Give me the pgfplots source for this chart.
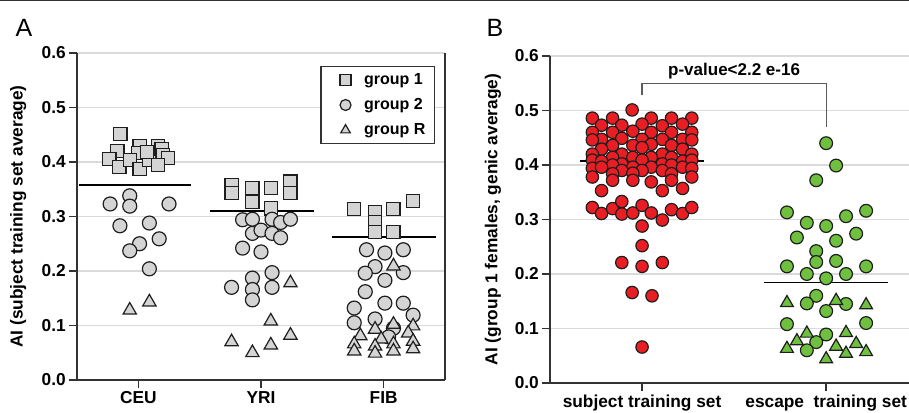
\documentclass[border=0pt]{standalone}
\usepackage{fontspec}
\setmainfont{Liberation Sans}
\usepackage{pgfplots}
\pgfplotsset{compat=1.18}
\definecolor{gfill}{RGB}{212,212,212}
\definecolor{edge}{RGB}{30,30,30}
\definecolor{rfill}{RGB}{232,30,36}
\definecolor{gnfill}{RGB}{112,192,64}
\definecolor{gridc}{RGB}{218,218,218}
\definecolor{axc}{RGB}{50,50,50}
\newcommand{\tf}{\bfseries\fontsize{17.3}{20}\selectfont}
\pgfplotsset{
 common/.style={
  scale only axis, height=327pt,
  ymin=0, ymax=0.6, ytick={0,0.1,0.2,0.3,0.4,0.5,0.6},
  axis x line*=bottom, axis y line*=left,
  axis line style={axc, line width=1.5pt, -},
  tick align=outside, major tick length=8pt,
  tick style={axc, line width=1.5pt},
  ymajorgrids, grid style={gridc, line width=1.5pt},
  /pgf/number format/assume math mode=true,
  y tick label style={/pgf/number format/.cd, fixed, fixed zerofill, precision=1, /tikz/.cd, font=\tf, inner sep=3pt},
  x tick label style={font=\tf},
  clip=false,
 },
 sq/.style={only marks, mark=square*, mark size=6.6pt, mark options={draw=edge, fill=gfill, line width=1.2pt}},
 ci/.style={only marks, mark=*, mark size=7pt, mark options={draw=edge, fill=gfill, line width=1.2pt}},
 tr/.style={only marks, mark=triangle*, mark size=7.7pt, mark options={draw=edge, fill=gfill, line width=1.2pt}},
 rci/.style={only marks, mark=*, mark size=6.2pt, mark options={draw=edge, fill=rfill, line width=1.2pt}},
 gci/.style={only marks, mark=*, mark size=6.4pt, mark options={draw=edge, fill=gnfill, line width=1.2pt}},
 gtr/.style={only marks, mark=triangle*, mark size=7.4pt, mark options={draw=edge, fill=gnfill, line width=1.2pt}},
 mline/.style={black, line width=1.5pt, forget plot},
}
\begin{document}
\begin{tikzpicture}
\useasboundingbox (0pt,0pt) rectangle (909pt,412pt);
\clip (0pt,0pt) rectangle (909pt,412pt);
\fill[axc] (0pt,410.5pt) rectangle (909pt,412pt);
\node[font=\fontsize{25}{25}\selectfont] at (24pt,384pt) {A};
\node[font=\fontsize{25}{25}\selectfont] at (495pt,384pt) {B};
% ---------------- Panel A ----------------
\begin{axis}[common,
  at={(77pt,32pt)}, anchor=south west, width=368pt,
  xmin=0.5, xmax=3.5, xtick={1,2,3}, xticklabels={CEU,YRI,FIB},
  ylabel={AI (subject training set average)},
  every axis y label/.style={at={(axis description cs:-0.16,0.5)}, rotate=90, anchor=center, font=\tf},
  legend style={at={(0.973,0.960)}, anchor=north east, draw=axc, line width=1.2pt, fill=white,
    font=\bfseries\fontsize{16}{19}\selectfont, inner xsep=8pt, inner ysep=6pt, row sep=10.5pt,
    nodes={inner sep=1pt}},
  legend cell align=left,
  legend image code/.code={\path (-16pt,0pt) (17pt,0pt); \draw[mark size=5.5pt] plot coordinates {(0pt,0pt)};},
]
\addplot[sq] coordinates {
 (0.854,0.451)(0.83,0.420)(0.764,0.406)(0.845,0.391)(1.01,0.429)(1.0,0.417)(0.93,0.404)
 (1.01,0.387)(1.09,0.404)(1.16,0.429)(1.19,0.424)(1.2,0.413)(1.24,0.407)(1.16,0.394)(1.07,0.418)
 (1.76,0.358)(1.76,0.343)(1.93,0.352)(1.93,0.327)(2.08,0.352)(2.08,0.315)(2.24,0.364)(2.24,0.343)
 (2.76,0.314)(2.93,0.308)(2.93,0.290)(2.93,0.272)(3.08,0.314)(3.08,0.272)(3.24,0.328)
};
\addlegendentry{group 1}
\addplot[ci] coordinates {
 (0.77,0.323)(0.93,0.338)(0.93,0.319)(1.25,0.323)(0.85,0.283)(1.09,0.288)(1.01,0.250)(0.93,0.237)(1.17,0.259)(1.09,0.204)
 (1.85,0.294)(1.93,0.295)(2.09,0.295)(2.16,0.289)(2.24,0.295)(1.93,0.269)(2.0,0.275)(2.09,0.269)(2.16,0.261)
 (1.85,0.242)(2.0,0.235)(1.93,0.187)(2.09,0.197)(1.76,0.170)(1.93,0.166)(2.09,0.170)(1.93,0.147)
 (2.86,0.239)(3.01,0.233)(3.16,0.239)(2.93,0.208)(2.85,0.196)(3.01,0.183)(3.16,0.197)(2.85,0.162)
 (3.01,0.141)(3.16,0.141)(2.76,0.132)(3.24,0.119)(2.76,0.105)(2.93,0.112)(3.08,0.095)(3.04,0.079)
};
\addlegendentry{group 2}
\addplot[tr] coordinates {
 (0.93,0.128)(1.09,0.143)
 (2.24,0.178)(2.08,0.108)(2.24,0.082)(1.76,0.070)(2.08,0.064)(1.93,0.050)
 (3.08,0.209)(2.93,0.093)(3.08,0.102)(3.24,0.099)(3.2,0.086)(2.81,0.081)(2.98,0.075)(3.24,0.071)
 (2.76,0.066)(2.93,0.062)(3.08,0.066)(2.76,0.053)(2.93,0.049)(3.08,0.053)(3.24,0.057)
};
\addlegendentry{group R}
\addplot[mline] coordinates {(0.52,0.358)(1.43,0.358)};
\addplot[mline] coordinates {(1.585,0.310)(2.43,0.310)};
\addplot[mline] coordinates {(2.58,0.262)(3.43,0.262)};
\draw[axc, line width=1.5pt] (rel axis cs:1,0) -- (rel axis cs:1,1);
\end{axis}
% ---------------- Panel B ----------------
\begin{axis}[common,
  at={(550pt,29pt)}, anchor=south west, width=359pt,
  xmin=0.5, xmax=2.45, xtick={1,2}, xticklabels={subject training set, escape\ \ training set},
  ylabel={AI (group 1 females, genic average)},
  every axis y label/.style={at={(axis description cs:-0.159,0.5)}, rotate=90, anchor=center, font=\tf},
]
\addplot[rci] coordinates {
 (0.946,0.501)
 (0.73,0.486)(0.84,0.486)(1.05,0.486)(1.16,0.486)(1.27,0.486)
 (0.78,0.473)(0.89,0.473)(1.0,0.475)(1.11,0.472)(1.22,0.475)
 (0.73,0.460)(0.84,0.460)(0.95,0.462)(1.05,0.460)(1.16,0.460)(1.27,0.460)
 (0.78,0.447)(0.89,0.449)(1.0,0.447)(1.11,0.447)(1.22,0.447)
 (0.73,0.446)(1.27,0.446)
 (0.84,0.436)(0.95,0.436)(1.05,0.438)(1.16,0.436)
 (0.78,0.429)(1.0,0.432)(1.22,0.429)
 (0.89,0.420)(1.11,0.420)(0.73,0.420)(1.27,0.420)
 (0.84,0.414)(0.95,0.414)(1.05,0.414)(1.16,0.414)
 (0.73,0.409)(0.78,0.407)(1.0,0.409)(1.22,0.407)(1.27,0.409)
 (0.89,0.402)(1.11,0.402)(0.84,0.400)(1.16,0.400)
 (0.73,0.394)(0.78,0.396)(0.95,0.396)(1.05,0.396)(1.22,0.396)(1.27,0.394)
 (0.89,0.390)(1.0,0.390)(1.11,0.390)
 (0.84,0.384)(0.95,0.385)(1.16,0.384)
 (0.73,0.378)(1.27,0.378)
 (0.84,0.372)(1.16,0.372)(1.05,0.369)(0.95,0.372)
 (0.78,0.353)(1.11,0.353)(1.22,0.357)
 (0.73,0.322)(0.78,0.311)(0.84,0.320)(0.89,0.333)(0.89,0.310)(0.95,0.312)(1.0,0.326)
 (1.05,0.312)(1.11,0.299)(1.16,0.318)(1.22,0.311)(1.27,0.322)
 (1.0,0.288)(1.0,0.252)(0.89,0.221)(1.0,0.214)(1.11,0.221)(0.946,0.166)(1.054,0.160)(1.0,0.066)
};
\addplot[gci] coordinates {
 (2.0,0.440)(2.054,0.399)(1.946,0.372)(1.787,0.313)(2.217,0.316)(1.895,0.294)(2.0,0.288)(2.108,0.306)
 (1.841,0.267)(2.163,0.274)(2.054,0.261)(1.946,0.242)(1.946,0.222)(2.054,0.224)(1.787,0.214)(2.217,0.214)
 (1.895,0.200)(2.108,0.200)(2.0,0.192)(1.946,0.160)(1.895,0.146)(2.108,0.145)(2.0,0.132)
 (1.787,0.108)(2.217,0.110)(2.0,0.089)(1.946,0.075)(1.895,0.060)
};
\addplot[gtr] coordinates {
 (1.787,0.147)(2.054,0.151)(2.217,0.143)(1.895,0.091)(2.108,0.092)(1.841,0.077)(2.163,0.072)
 (1.787,0.063)(2.054,0.067)(2.108,0.054)(2.217,0.057)(2.0,0.044)
};
\addplot[mline] coordinates {(0.665,0.407)(1.335,0.407)};
\addplot[mline] coordinates {(1.663,0.184)(2.337,0.184)};
\addplot[axc!80, line width=1.3pt, forget plot] coordinates {(1,0.528)(1,0.550)(2,0.550)(2,0.470)};
\node[font=\bfseries\fontsize{17}{20}\selectfont] at (axis cs:1.5,0.572) {p-value<2.2 e-16};
\end{axis}
\end{tikzpicture}
\end{document}
